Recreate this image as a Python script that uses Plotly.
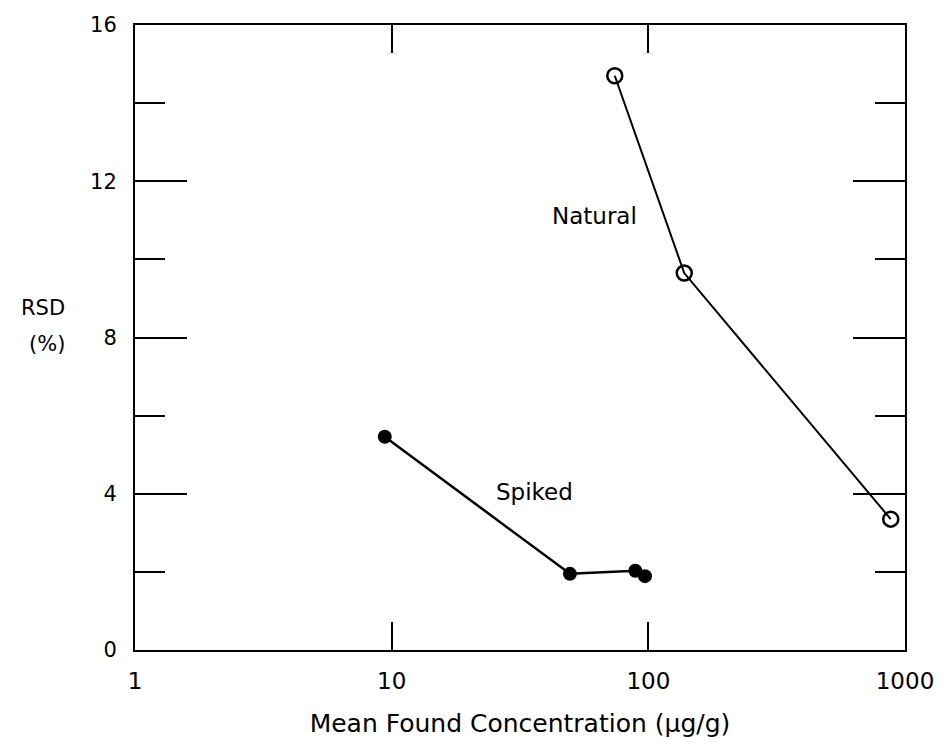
import plotly.graph_objects as go

# Data
natural_x = [74, 138, 880]
natural_y = [14.7, 9.65, 3.35]
spiked_x = [9.4, 49.5, 89, 97]
spiked_y = [5.46, 1.95, 2.03, 1.89]

x_tickvals = [1, 10, 100, 1000]
x_ticktext = ["1", "10", "100", "1000"]
y_tickvals = [0, 4, 8, 12, 16]
y_ticktext = ["0", "4", "8", "12", "16"]

FONT = "DejaVu Sans"

fig = go.Figure()
fig.add_trace(go.Scatter(
    x=natural_x, y=natural_y, mode="lines+markers", name="Natural",
    line=dict(color="black", width=2),
    marker=dict(symbol="circle-open", size=15, color="black", line=dict(width=2.5)),
    showlegend=False,
))
fig.add_trace(go.Scatter(
    x=spiked_x, y=spiked_y, mode="lines+markers", name="Spiked",
    line=dict(color="black", width=2.5),
    marker=dict(symbol="circle", size=14, color="black"),
    showlegend=False,
))

fig.add_annotation(x=1.789, y=11.1, xref="x", yref="y", text="Natural", showarrow=False,
                   xanchor="center", font=dict(family=FONT, size=23, color="black"))
fig.add_annotation(x=1.556, y=4.04, xref="x", yref="y", text="Spiked", showarrow=False,
                   xanchor="center", font=dict(family=FONT, size=23, color="black"))
fig.add_annotation(x=-0.119, y=0.548, xref="paper", yref="paper", text="RSD", showarrow=False,
                   xanchor="center", yanchor="middle", font=dict(family=FONT, size=21, color="black"))
fig.add_annotation(x=-0.114, y=0.489, xref="paper", yref="paper", text="(%)", showarrow=False,
                   xanchor="center", yanchor="middle", font=dict(family=FONT, size=21, color="black"))

fig.update_xaxes(
    type="log", range=[0, 3],
    tickvals=x_tickvals, ticktext=x_ticktext,
    ticks="inside", ticklen=28, tickwidth=2, tickcolor="black",
    showline=True, linewidth=2, linecolor="black", mirror="ticks",
    showgrid=False, zeroline=False,
    tickfont=dict(family=FONT, size=23, color="black"),
    ticklabelstandoff=9,
    title=dict(text="Mean Found Concentration (μg/g)", standoff=22,
               font=dict(family=FONT, size=25, color="black")),
)
fig.update_yaxes(
    range=[0, 16],
    tickvals=y_tickvals, ticktext=y_ticktext,
    ticks="inside", ticklen=52, tickwidth=2, tickcolor="black",
    minor=dict(dtick=2, ticks="inside", ticklen=30, tickwidth=2, tickcolor="black", showgrid=False),
    showline=True, linewidth=2, linecolor="black", mirror="ticks",
    showgrid=False, zeroline=False,
    tickfont=dict(family=FONT, size=21, color="black"),
    ticklabelstandoff=12,
)

fig.update_layout(
    width=946, height=745,
    margin=dict(l=135, r=36, t=25, b=90),
    paper_bgcolor="white", plot_bgcolor="white",
    font=dict(family=FONT, color="black"),
)

fig.write_html("out.html")
